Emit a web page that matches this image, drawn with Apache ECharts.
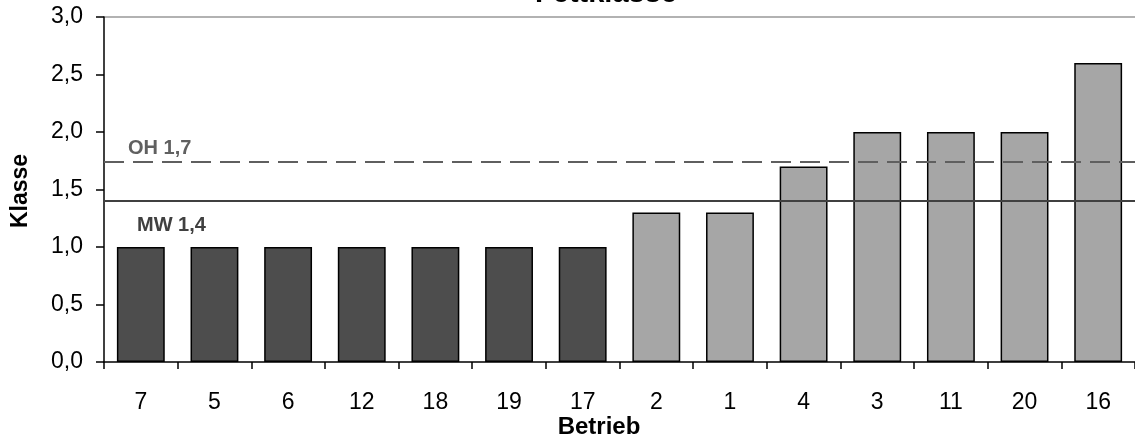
<!DOCTYPE html>
<html><head><meta charset="utf-8">
<script src="https://cdn.jsdelivr.net/npm/echarts@6/dist/echarts.min.js"></script>
<style>html,body{margin:0;padding:0;background:#fff}#c{width:1135px;height:440px}</style>
</head><body><div id="c"></div>
<script>
const categories = ['7','5','6','12','18','19','17','2','1','4','3','11','20','16'];
const values = [1.0,1.0,1.0,1.0,1.0,1.0,1.0,1.3,1.3,1.7,2.0,2.0,2.0,2.6];
const darkCount = 7;
const meanValue = 1.4;
const meanLabel = 'MW 1,4';
const ohValue = 1.74;
const ohLabel = 'OH 1,7';
const yTicks = [0,0.5,1,1.5,2,2.5,3];

const chart = echarts.init(document.getElementById('c'));
const F = '"Liberation Sans", Arial, sans-serif';
chart.setOption({
  animation:false,
  title:{text:'Fettklasse',left:601,textAlign:'center',top:-26,textStyle:{fontFamily:F,fontSize:29,fontWeight:'bold',color:'#000'}},
  grid:{left:104,right:-12,top:17,bottom:78,containLabel:false},
  xAxis:{type:'category',data:categories,
    axisLine:{lineStyle:{color:'#000',width:1.5}},
    axisTick:{show:true,alignWithLabel:false,length:7,lineStyle:{color:'#000',width:1.5}},
    axisLabel:{fontFamily:F,fontSize:23,color:'#000',margin:29}},
  yAxis:{type:'value',min:0,max:3,interval:0.5,
    axisLine:{show:true,lineStyle:{color:'#000',width:1.5}},
    axisTick:{show:true,length:8,lineStyle:{color:'#000',width:1.5}},
    splitLine:{show:false},
    axisLabel:{fontFamily:F,fontSize:23,color:'#000',margin:21,formatter:v=>v.toFixed(1).replace('.',',')}},
  graphic:[
    {type:'line',shape:{x1:104,y1:17,x2:1135,y2:17},style:{stroke:'#999',lineWidth:1.5}},
    {type:'text',rotation:Math.PI/2,x:21,y:191,style:{text:'Klasse',font:'bold 23px '+F,fill:'#000',align:'center',verticalAlign:'middle'}},
    {type:'text',x:599,y:427,style:{text:'Betrieb',font:'bold 24px '+F,fill:'#000',align:'center',verticalAlign:'middle'}}
  ],
  series:[{type:'bar',barCategoryGap:'35%',
    data:values.map((v,i)=>({value:v,itemStyle:{color:i<darkCount?'#4d4d4d':'#a6a6a6'}})),
    itemStyle:{borderColor:'#000',borderWidth:1.5},
    markLine:{silent:true,symbol:'none',
      data:[
        {yAxis:meanValue,lineStyle:{type:'solid',color:'#404040',width:2},
          label:{show:true,position:'insideStartBottom',formatter:meanLabel,fontFamily:F,fontSize:20,fontWeight:'bold',color:'#404040',distance:[33,14]}},
        {yAxis:ohValue,lineStyle:{type:[20,9],color:'#5f5f5f',width:2},
          label:{show:true,position:'insideStartTop',formatter:ohLabel,fontFamily:F,fontSize:20,fontWeight:'bold',color:'#606060',distance:[24,3]}}
      ]}
  }]
});
</script></body></html>
